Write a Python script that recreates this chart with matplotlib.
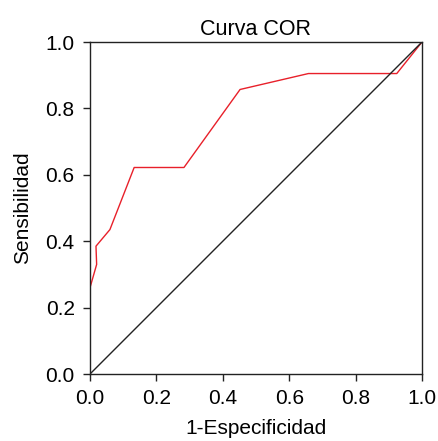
import matplotlib
matplotlib.use('Agg')
import matplotlib.pyplot as plt

# ROC curve points
fpr = [0.0, 0.02, 0.018, 0.06, 0.133, 0.283, 0.452, 0.658, 0.924, 1.0]
tpr = [0.26, 0.33, 0.385, 0.435, 0.622, 0.622, 0.857, 0.905, 0.905, 1.0]
ref_line = [0.0, 1.0]
ticks = [0.0, 0.2, 0.4, 0.6, 0.8, 1.0]
tick_labels = ['0.0', '0.2', '0.4', '0.6', '0.8', '1.0']

plt.rcParams['font.family'] = ['Liberation Sans', 'DejaVu Sans']

fig = plt.figure(figsize=(4.38, 4.41), dpi=100)
ax = fig.add_axes([90 / 438, 1 - 374 / 441, 332 / 438, 332 / 441])

ax.plot(fpr, tpr, color='#e8202a', linewidth=1.0)
ax.plot(ref_line, ref_line, color='#222222', linewidth=1.0)

ax.set_xlim(0, 1)
ax.set_ylim(0, 1)
ax.set_xticks(ticks)
ax.set_yticks(ticks)
ax.set_xticklabels(tick_labels, fontsize=15)
ax.set_yticklabels(tick_labels, fontsize=15)
ax.tick_params(direction='out', length=5, width=1, color='#222222', pad=6)
for s in ax.spines.values():
    s.set_linewidth(1.0)
    s.set_color('#222222')

ax.set_title('Curva COR', fontsize=15.5, pad=5)
ax.set_xlabel('1-Especificidad', fontsize=15, labelpad=8)
ax.set_ylabel('Sensibilidad', fontsize=15, labelpad=10)

fig.savefig('out.png', dpi=100)
